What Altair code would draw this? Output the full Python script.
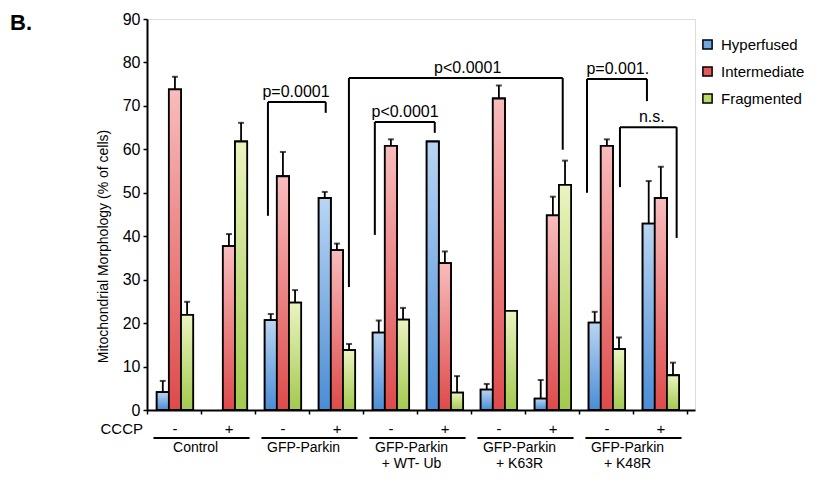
import altair as alt
import pandas as pd

# ---------------- data ----------------
categories = ["Control -", "Control +", "GFP-Parkin -", "GFP-Parkin +",
              "WT-Ub -", "WT-Ub +", "K63R -", "K63R +", "K48R -", "K48R +"]
cccp = ["-", "+", "-", "+", "-", "+", "-", "+", "-", "+"]
series = ["Hyperfused", "Intermediate", "Fragmented"]

hyperfused = [4.1, 0.0, 20.7, 48.8, 17.8, 61.8, 4.7, 2.6, 20.1, 42.9]
hyperfused_err = [2.6, 0.0, 1.4, 1.4, 2.8, 0.0, 1.3, 4.3, 2.5, 9.8]
intermediate = [73.8, 37.7, 53.8, 36.8, 60.8, 33.8, 71.7, 44.8, 60.8, 48.8]
intermediate_err = [2.9, 2.8, 5.6, 1.5, 1.5, 2.7, 3.0, 4.3, 1.5, 7.2]
fragmented = [21.9, 61.8, 24.7, 13.8, 20.8, 4.0, 22.8, 51.8, 14.0, 8.0]
fragmented_err = [3.0, 4.3, 2.9, 1.4, 2.7, 3.8, 0.0, 5.6, 2.7, 2.9]

group_start = [0, 2, 4, 6, 8]
group_line1 = ["Control", "GFP-Parkin", "GFP-Parkin", "GFP-Parkin", "GFP-Parkin"]
group_line2 = ["", "", "+ WT- Ub", "+ K63R", "+ K48R"]

# significance brackets (x in category units, y in % of cells)
br_label = ["p=0.0001", "p<0.0001", "p<0.0001", "p=0.001.", "n.s."]
br_x_left = [2.24, 3.74, 4.22, 8.15, 8.76]
br_x_right = [3.31, 7.70, 5.33, 9.26, 9.81]
br_y_top = [70.9, 76.4, 66.3, 76.2, 65.1]
br_y_left = [44.7, 28.3, 40.3, 50.0, 51.3]
br_y_right = [68.4, 59.9, 63.8, 71.1, 39.6]
br_label_x = [2.76, 5.94, 4.78, 8.72, 9.35]

# ---------------- tables ----------------
vals = [hyperfused, intermediate, fragmented]
errs = [hyperfused_err, intermediate_err, fragmented_err]
rows = []
for i, cat in enumerate(categories):
    for s, name in enumerate(series):
        x1 = i + 0.18 + s * 0.225
        rows.append(dict(cat=cat, series=name, x1=x1, x2=x1 + 0.225,
                         xc=x1 + 0.1125, val=vals[s][i], zero=0.0,
                         top=vals[s][i] + errs[s][i], err=errs[s][i]))
bars = pd.DataFrame(rows)
bars_nz = bars[bars.val > 0]
errdf = bars[bars.err > 0]

cccp_df = pd.DataFrame(dict(x=[i + 0.52 for i in range(len(categories))], lab=cccp))
grp_df = pd.DataFrame(dict(xs=[g + 0.12 for g in group_start],
                           xe=[g + 1.90 for g in group_start],
                           xc=[g + 0.90 for g in group_start],
                           l1=group_line1, l2=group_line2))

seg = []
for k in range(len(br_label)):
    seg.append(dict(x=br_x_left[k], x2=br_x_left[k], y=br_y_left[k], y2=br_y_top[k]))
    seg.append(dict(x=br_x_left[k], x2=br_x_right[k], y=br_y_top[k], y2=br_y_top[k]))
    seg.append(dict(x=br_x_right[k], x2=br_x_right[k], y=br_y_right[k], y2=br_y_top[k]))
seg_df = pd.DataFrame(seg)
brlab_df = pd.DataFrame(dict(x=br_label_x, y=br_y_top, lab=br_label))

# ---------------- scales / axes ----------------
FONT = "Liberation Sans"
xscale = alt.Scale(domain=[0, 10.15], nice=False, zero=False)
yscale = alt.Scale(domain=[0, 90], nice=False)
xaxis = alt.Axis(values=list(range(11)), labels=False, title=None, tickSize=4,
                 tickWidth=1.5, domainWidth=2, domainColor="black", tickColor="black",
                 grid=False)
yaxis = alt.Axis(values=list(range(0, 91, 10)), title="Mitochondrial Morphology (% of cells)",
                 titleX=-44, titleY=227, titleAlign="center", titleBaseline="middle",
                 titleFontSize=14, titleFontWeight="normal", titleFont=FONT, titleColor="black",
                 labelFontSize=16, labelFont=FONT, labelColor="black", labelPadding=3,
                 tickSize=4, tickWidth=1.5, domainWidth=2, domainColor="black",
                 tickColor="black", grid=False)

X = lambda f: alt.X(f, type="quantitative", scale=xscale, axis=xaxis)
Y = lambda f: alt.Y(f, type="quantitative", scale=yscale, axis=yaxis)

mid_colors = ["#6fa8e0", "#e25c5c", "#bcd96c"]
grad = {
    "Hyperfused": ("#b9d5f3", "#4a8dd6"),
    "Intermediate": ("#f9bcbc", "#de4a4a"),
    "Fragmented": ("#ebf4c0", "#a3c94e"),
}

base = alt.Chart(bars_nz).mark_bar(stroke="black", strokeWidth=1.8).encode(
    x=X("x1"), x2="x2", y=Y("val"), y2="zero",
    color=alt.Color("series:N", scale=alt.Scale(domain=series, range=mid_colors),
                    legend=alt.Legend(title=None, orient="none", legendX=553, legendY=18,
                                      symbolType="square", symbolSize=85,
                                      symbolStrokeColor="black", symbolStrokeWidth=1.5,
                                      labelFontSize=15, labelFont=FONT, labelColor="black",
                                      labelOffset=6, rowPadding=10, padding=0)),
)

layers = [base]
for name in series:
    top, bot = grad[name]
    g = alt.Gradient(gradient="linear",
                     stops=[alt.GradientStop(color=top, offset=0),
                            alt.GradientStop(color=bot, offset=1)],
                     x1=0, x2=0, y1=0, y2=1)
    layers.append(
        alt.Chart(bars_nz[bars_nz.series == name]).mark_bar(
            color=g, stroke="black", strokeWidth=1.8
        ).encode(x=X("x1"), x2="x2", y=Y("val"), y2="zero")
    )

err_rule = alt.Chart(errdf).mark_rule(color="black", strokeWidth=1.8).encode(
    x=X("xc"), y=Y("val"), y2="top")
err_cap = alt.Chart(errdf).mark_tick(color="black", orient="horizontal", size=6,
                                     thickness=2).encode(x=X("xc"), y=Y("top"))

br_rules = alt.Chart(seg_df).mark_rule(color="black", strokeWidth=2).encode(
    x=X("x"), x2="x2", y=Y("y"), y2="y2")
br_text = alt.Chart(brlab_df).mark_text(font=FONT, fontSize=16, color="black",
                                        baseline="alphabetic", dy=-5).encode(
    x=X("x"), y=Y("y"), text="lab:N")

cccp_text = alt.Chart(cccp_df).mark_text(font=FONT, fontSize=15, color="black",
                                         baseline="middle").encode(
    x=X("x"), y=alt.value(410), text="lab:N")
grp_rule = alt.Chart(grp_df).mark_rule(color="black", strokeWidth=2).encode(
    x=X("xs"), x2="xe", y=alt.value(419))
grp_t1 = alt.Chart(grp_df).mark_text(font=FONT, fontSize=14, color="black",
                                     baseline="middle").encode(
    x=X("xc"), y=alt.value(429), text="l1:N")
grp_t2 = alt.Chart(grp_df).mark_text(font=FONT, fontSize=14, color="black",
                                     baseline="middle").encode(
    x=X("xc"), y=alt.value(445), text="l2:N")

cccp_lab = alt.Chart(pd.DataFrame(dict(t=["CCCP"]))).mark_text(
    font=FONT, fontSize=15, color="black", align="right", baseline="middle").encode(
    x=alt.value(-4), y=alt.value(410), text="t:N")
panel = alt.Chart(pd.DataFrame(dict(t=["B."]))).mark_text(
    font=FONT, fontSize=22, fontWeight="bold", color="black", align="left",
    baseline="middle").encode(x=alt.value(-137), y=alt.value(4), text="t:N")

layers += [err_rule, err_cap, br_rules, br_text, cccp_text, grp_rule, grp_t1, grp_t2,
           cccp_lab, panel]

chart = alt.layer(*layers).properties(
    width=548, height=391,
    autosize=alt.AutoSizeParams(type="none"),
    padding={"left": 139, "top": 11, "right": 113, "bottom": 63},
).configure_view(stroke=None).configure(background="white")

chart.save("out.html", embed_options={"renderer": "svg", "actions": False})
